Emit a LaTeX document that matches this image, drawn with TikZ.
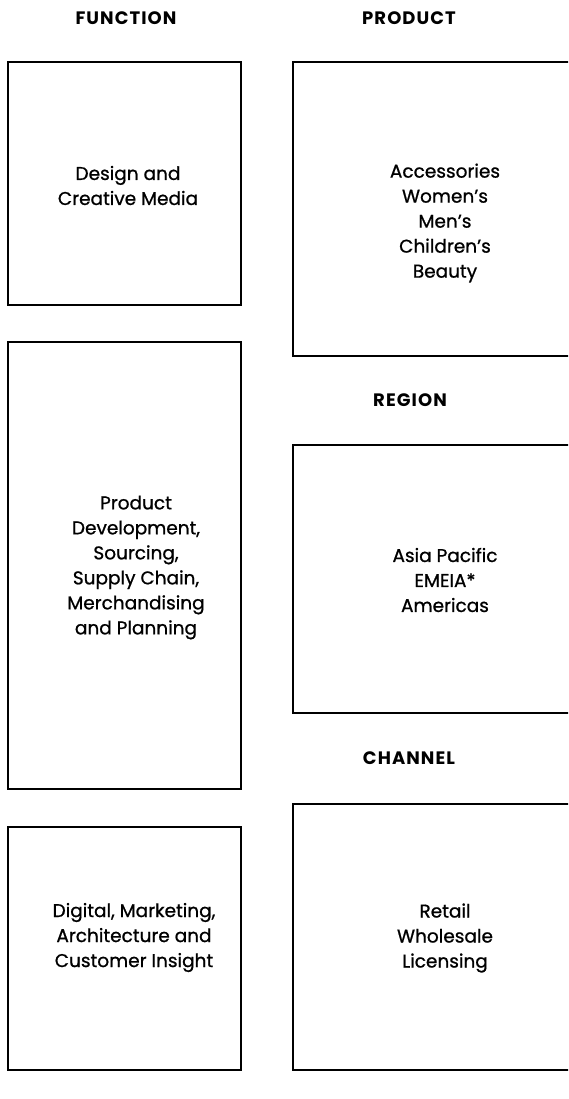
\documentclass[tikz,border=0pt]{standalone}
\usepackage{fontspec}
\setmainfont{Poppins}
\newfontfamily\bodyfont{Poppins}[FakeBold=0.9]
\newfontfamily\headfont{Poppins Bold}[LetterSpace=6]
\begin{document}
\begin{tikzpicture}[x=1pt,y=-1pt,
  box/.style={draw=black, line width=1.8pt},
  body/.style={align=center, font=\fontsize{18.5}{25}\bodyfont, inner sep=0pt},
  head/.style={font=\fontsize{18}{20}\headfont, inner sep=0pt}]
\useasboundingbox (0,0) rectangle (568,1099);
\fill[white] (0,0) rectangle (568,1099);
\begin{scope}
\clip (0,0) rectangle (568,1099);
% left column
\draw[box] (8,62) rectangle (241,305);
\draw[box] (8,342) rectangle (241,789);
\draw[box] (8,827) rectangle (241,1070);
% right column
\draw[box] (293,62) rectangle (600,356);
\draw[box] (293,445) rectangle (600,713);
\draw[box] (293,804) rectangle (600,1070);
\end{scope}
% headings
\node[head] (hf) at (126,18) {FUNCTION};
\node[head] (hp) at (409,18) {PRODUCT};
\node[head] (hr) at (410,400) {REGION};
\node[head] (hc) at (409,758) {CHANNEL};
% texts
\node[body] (t1) at (128,185.5) {Design and\\Creative Media};
\node[body] (t2) at (136,567.5) {Product\\Development,\\Sourcing,\\Supply Chain,\\Merchandising\\and Planning};
\node[body] (t3) at (134,937.5) {Digital, Marketing,\\Architecture and\\Customer Insight};
\node[body] (t4) at (445,223) {Accessories\\Women’s\\Men’s\\Children’s\\Beauty};
\node[body] (t5) at (445,580) {Asia Pacific\\EMEIA*\\Americas};
\node[body] (t6) at (445,938) {Retail\\Wholesale\\Licensing};
\end{tikzpicture}
\end{document}
